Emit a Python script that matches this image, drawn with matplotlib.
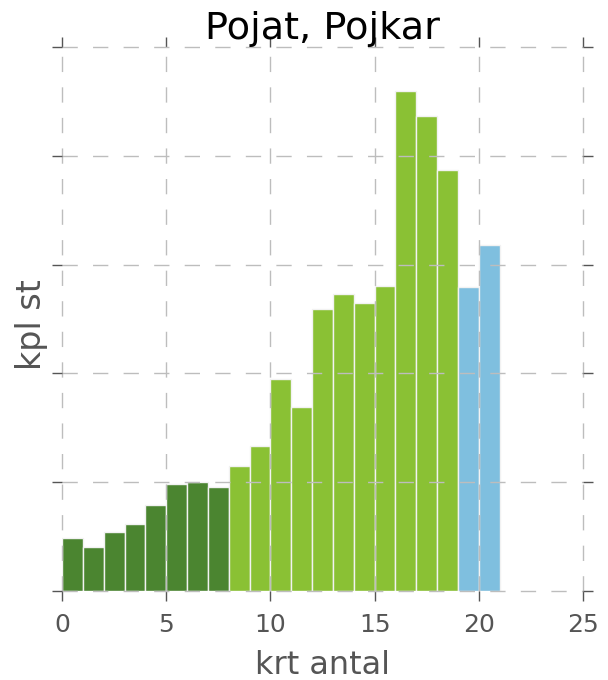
import matplotlib
matplotlib.use("Agg")
import matplotlib.pyplot as plt
import numpy as np

# krt antal per bin, height in arbitrary units (y axis has no labels)
bins_dark = [0, 1, 2, 3, 4, 5, 6, 7]
vals_dark = [4.9, 4.0, 5.4, 6.2, 7.9, 9.8, 10.0, 9.6]
bins_light = [8, 9, 10, 11, 12, 13, 14, 15, 16, 17, 18]
vals_light = [11.5, 13.3, 19.5, 16.9, 25.9, 27.3, 26.5, 28.0, 46.0, 43.7, 38.7]
bins_blue = [19, 20]
vals_blue = [27.9, 31.8]

x_ticks = [0, 5, 10, 15, 20, 25]
y_ticks = [0, 10, 20, 30, 40, 50]

fig = plt.figure(figsize=(6.08, 6.80), dpi=100)
ax = fig.add_axes([62 / 608, 1 - 591 / 680, (583 - 62) / 608, (591 - 47) / 680])

for bins, vals, color in [(bins_dark, vals_dark, "#4b8530"),
                          (bins_light, vals_light, "#8ac134"),
                          (bins_blue, vals_blue, "#7fbfdf")]:
    ax.bar(bins, vals, width=1.0, align="edge", color=color,
           edgecolor="#f2f2f2", linewidth=1.0)

ax.set_xlim(0, 25)
ax.set_ylim(0, 50)
ax.set_xticks(x_ticks)
ax.set_yticks(y_ticks)
ax.set_yticklabels([])
ax.set_axisbelow(False)
ax.grid(True, color="#bdbdbd", linestyle=(0, (11, 11)), linewidth=1.0)
for gl in ax.get_xgridlines() + ax.get_ygridlines():
    gl.set_clip_on(False)

for s in ax.spines.values():
    s.set_visible(False)
ax.tick_params(axis="both", which="both", direction="out", length=7,
               width=1, color="#555555", labelcolor="#555555", labelsize=18,
               top=True, right=True, labeltop=False, labelright=False)
ax.tick_params(axis="x", pad=9)

ax.set_title("Pojat, Pojkar", fontsize=27.5, pad=0)
ax.set_xlabel("krt antal", fontsize=23, color="#555555", labelpad=9)
ax.set_ylabel("kpl st", fontsize=24, color="#555555")
ax.yaxis.set_label_coords(-0.027, 0.49)

fig.savefig("out.png", dpi=100)
